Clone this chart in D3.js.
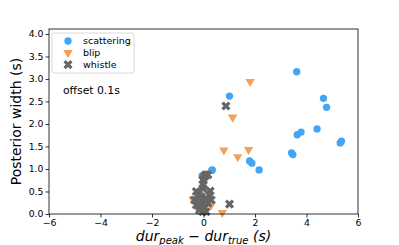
<!DOCTYPE html>
<html>
<head>
<meta charset="utf-8">
<script src="https://cdn.jsdelivr.net/npm/d3@7"></script>
<style>
  body { margin: 0; background: #fff; }
  text { font-family: "DejaVu Sans", sans-serif; }
</style>
</head>
<body>
<div id="chart"></div>
<script>
// scattering (blue circles)
const scatterX = [3.62, 1.01, 4.66, 4.78, 3.64, 3.79, 4.41, 5.31, 5.36, 3.42, 3.47, 1.79, 1.88, 2.16, 0.32, -0.05, -0.16, 0.34, 0.0];
const scatterY = [3.16, 2.62, 2.57, 2.37, 1.76, 1.82, 1.89, 1.58, 1.62, 1.36, 1.32, 1.18, 1.13, 0.98, 0.97, 0.85, 0.50, 0.98, 0.30];
// blip (orange triangles)
const blipX = [1.81, 1.13, 0.79, 1.75, 1.33, 0.14, 0.0, -0.41, 0.73, 0.30, 0.23];
const blipY = [2.94, 2.15, 1.42, 1.43, 1.27, 0.90, 0.76, 0.33, 0.03, 0.20, 0.40];
// whistle (grey crosses)
const whistleX = [0.87, 1.01, 0.17, 0.08, 0.04, -0.03, -0.03, -0.28, -0.22, -0.35, -0.28, -0.16, -0.03, 0.10, 0.23, 0.30, 0.17, 0.04, 0.10, -0.22, -0.09, -0.16, -0.03, 0.26, 0.0];
const whistleY = [2.40, 0.22, 0.87, 0.87, 0.83, 0.76, 0.57, 0.50, 0.42, 0.31, 0.20, 0.16, 0.24, 0.35, 0.42, 0.31, 0.24, 0.13, 0.05, 0.27, 0.38, 0.09, 0.05, 0.51, 0.65];

const xTicks = [-6, -4, -2, 0, 2, 4, 6];
const yTicks = [0, 0.5, 1.0, 1.5, 2.0, 2.5, 3.0, 3.5, 4.0];
const legendItems = ["scattering", "blip", "whistle"];

const W = 399, H = 245;
const margin = { top: 29, right: 41, bottom: 31, left: 49 };

const svg = d3.select("#chart").append("svg")
    .attr("width", W)
    .attr("height", H);

const x = d3.scaleLinear().domain([-6, 6]).range([margin.left, W - margin.right]);
const y = d3.scaleLinear().domain([0, 4.11]).range([H - margin.bottom, margin.top]);

const colors = { scattering: "#42a5f5", blip: "#f5a05a", whistle: "#666666" };

const circle = d3.symbol().type(d3.symbolCircle).size(42);
const tri = d3.symbol().type(d3.symbolTriangle).size(38);
const cross = d3.symbol().type(d3.symbolCross).size(52);

function drawSeries(xs, ys, gen, color, rot) {
    svg.append("g").selectAll("path")
        .data(xs.map((v, i) => [v, ys[i]]))
        .enter().append("path")
        .attr("d", gen)
        .attr("fill", color)
        .attr("transform", d => "translate(" + x(d[0]) + "," + y(d[1]) + ") rotate(" + rot + ")");
}

drawSeries(scatterX, scatterY, circle, colors.scattering, 0);
drawSeries(blipX, blipY, tri, colors.blip, 180);
drawSeries(whistleX, whistleY, cross, colors.whistle, 45);

// frame
svg.append("rect")
    .attr("x", margin.left).attr("y", margin.top)
    .attr("width", W - margin.left - margin.right)
    .attr("height", H - margin.top - margin.bottom)
    .attr("fill", "none").attr("stroke", "#000").attr("stroke-width", 0.8);

const xAxis = svg.append("g")
    .attr("transform", "translate(0," + (H - margin.bottom) + ")")
    .call(d3.axisBottom(x).tickValues(xTicks).tickSize(3.5).tickPadding(2)
        .tickFormat(d => d < 0 ? "\u2212" + Math.abs(d) : d));
const yAxis = svg.append("g")
    .attr("transform", "translate(" + margin.left + ",0)")
    .call(d3.axisLeft(y).tickValues(yTicks).tickSize(3.5).tickPadding(2)
        .tickFormat(d3.format(".1f")));

[xAxis, yAxis].forEach(a => {
    a.select(".domain").remove();
    a.selectAll("line").attr("stroke", "#000").attr("stroke-width", 0.8);
    a.selectAll("text").attr("fill", "#000").style("font-size", "9.3px")
        .style("font-family", "DejaVu Sans");
});

// legend
const lg = svg.append("g");
lg.append("rect")
    .attr("x", 52).attr("y", 33).attr("width", 82).attr("height", 40)
    .attr("rx", 2).attr("fill", "#fff").attr("fill-opacity", 0.8)
    .attr("stroke", "#d0d0d0").attr("stroke-width", 0.8);
const gens = [circle, tri, cross];
const rots = [0, 180, 45];
legendItems.forEach((name, i) => {
    const cy = 41 + i * 11.8;
    lg.append("path")
        .attr("d", gens[i])
        .attr("fill", colors[name])
        .attr("transform", "translate(68," + cy + ") rotate(" + rots[i] + ")");
    lg.append("text")
        .attr("x", 83).attr("y", cy)
        .attr("dy", "0.35em")
        .style("font-size", "9.5px")
        .text(name);
});

svg.append("text")
    .attr("x", 63).attr("y", 94)
    .style("font-size", "10.8px")
    .text("offset 0.1s");

// axis labels
svg.append("text")
    .attr("transform", "translate(21," + (margin.top + (H - margin.top - margin.bottom) / 2) + ") rotate(-90)")
    .attr("text-anchor", "middle")
    .style("font-size", "14px")
    .text("Posterior width (s)");

const xl = svg.append("text")
    .attr("x", x(0)).attr("y", 241)
    .attr("text-anchor", "middle")
    .style("font-size", "14px")
    .style("font-style", "italic");
xl.append("tspan").text("dur");
xl.append("tspan").attr("dy", 3).style("font-size", "10px").text("peak");
xl.append("tspan").attr("dy", -3).style("font-style", "normal").text(" \u2212 ");
xl.append("tspan").text("dur");
xl.append("tspan").attr("dy", 3).style("font-size", "10px").text("true");
xl.append("tspan").attr("dy", -3).text(" (s)");
</script>
</body>
</html>
